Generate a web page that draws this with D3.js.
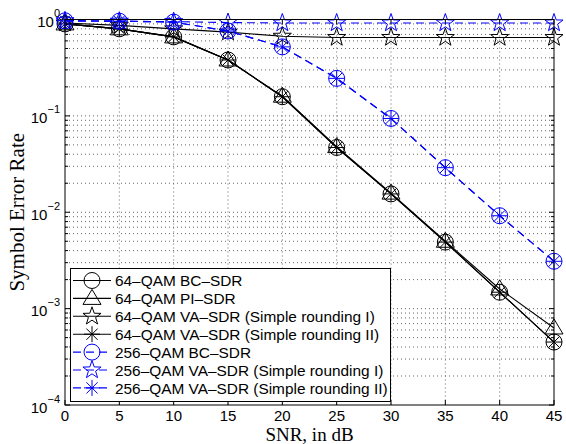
<!DOCTYPE html>
<html><head><meta charset="utf-8">
<script src="https://cdn.jsdelivr.net/npm/d3@7"></script>
<style>body{margin:0;background:#fff}</style>
</head><body>
<script>
const snr = [0,5,10,15,20,25,30,35,40,45];
const qam64_bc   = [0.90,0.80,0.66,0.38,0.158,0.047,0.0155,0.0049,0.00148,0.00045];
const qam64_pi   = [0.90,0.80,0.66,0.38,0.160,0.048,0.0158,0.0050,0.00160,0.00063];
const qam64_va1  = [0.92,0.87,0.80,0.74,0.67,0.65,0.65,0.65,0.65,0.65];
const qam64_va2  = [0.90,0.80,0.66,0.38,0.158,0.047,0.0155,0.0049,0.00148,0.00045];
const qam256_bc  = [0.97,0.96,0.94,0.76,0.52,0.245,0.094,0.029,0.0092,0.0031];
const qam256_va1 = [0.97,0.96,0.95,0.93,0.92,0.92,0.92,0.92,0.92,0.92];
const qam256_va2 = [0.97,0.96,0.94,0.76,0.52,0.245,0.094,0.029,0.0092,0.0031];
const legendLabels = ["64–QAM BC–SDR","64–QAM PI–SDR","64–QAM VA–SDR (Simple rounding I)","64–QAM VA–SDR (Simple rounding II)","256–QAM BC–SDR","256–QAM VA–SDR (Simple rounding I)","256–QAM VA–SDR (Simple rounding II)"];
const xTicks = [0,5,10,15,20,25,30,35,40,45];
const yExps = [0,-1,-2,-3,-4];

const W=566,H=444, L=65, R=554, T=19.5, B=405;
const svg=d3.select("body").append("svg").attr("width",W).attr("height",H);
const x=d3.scaleLinear().domain([0,45]).range([L,R]);
const y=d3.scaleLog().domain([1e-4,1]).range([B,T]);

const series=[
 {v:qam64_bc,c:"#000",m:"circle",dash:null},
 {v:qam64_pi,c:"#000",m:"triangle",dash:null},
 {v:qam64_va1,c:"#000",m:"star",dash:null},
 {v:qam64_va2,c:"#000",m:"asterisk",dash:null},
 {v:qam256_bc,c:"#0000ff",m:"circle",dash:"8,5"},
 {v:qam256_va1,c:"#0000ff",m:"star",dash:"8,5"},
 {v:qam256_va2,c:"#0000ff",m:"asterisk",dash:"8,5"}
];

// grid
const g=svg.append("g");
xTicks.forEach(t=>{ if(t>0&&t<45) g.append("line").attr("x1",x(t)).attr("x2",x(t)).attr("y1",T).attr("y2",B).attr("stroke","#666").attr("stroke-dasharray","1,3").attr("stroke-width",1);});
const minorY=[];
for(let e=-4;e<0;e++){for(let k=1;k<10;k++){minorY.push(k*Math.pow(10,e));}}
minorY.forEach(v=>{ if(v>1e-4) g.append("line").attr("x1",L).attr("x2",R).attr("y1",y(v)).attr("y2",y(v)).attr("stroke","#666").attr("stroke-dasharray","1,3").attr("stroke-width",1);});

// ticks
const tk=svg.append("g").attr("stroke","#000").attr("stroke-width",1);
xTicks.forEach(t=>{tk.append("line").attr("x1",x(t)).attr("x2",x(t)).attr("y1",B).attr("y2",B-5);tk.append("line").attr("x1",x(t)).attr("x2",x(t)).attr("y1",T).attr("y2",T+5);});
minorY.forEach(v=>{const major=Math.abs(Math.log10(v)-Math.round(Math.log10(v)))<1e-9;const len=major?5:3;
 tk.append("line").attr("x1",L).attr("x2",L+len).attr("y1",y(v)).attr("y2",y(v));
 tk.append("line").attr("x1",R).attr("x2",R-len).attr("y1",y(v)).attr("y2",y(v));});

// tick labels
xTicks.forEach(t=>svg.append("text").attr("x",x(t)).attr("y",421).attr("text-anchor","middle").attr("font-family","Liberation Sans, Arial, sans-serif").attr("font-size",15).text(t));
yExps.forEach(e=>{const t=svg.append("text").attr("x",L-5).attr("y",y(Math.pow(10,e))+7.5).attr("text-anchor","end").attr("font-family","Liberation Sans, Arial, sans-serif").attr("font-size",15);
 t.append("tspan").text("10");
 t.append("tspan").attr("dy",-10).attr("font-size",11).text(e===0?"0":"−"+(-e));});

// lines
const line=d3.line().x((d,i)=>x(snr[i])).y(d=>y(d));
function marker(sel,type,cx,cy,c){
 const gm=sel.append("g").attr("transform",`translate(${cx},${cy})`).attr("fill","none").attr("stroke",c).attr("stroke-width",1);
 if(type==="circle") gm.append("circle").attr("r",8);
 else if(type==="triangle") gm.append("path").attr("d","M0,-9L9,6L-9,6Z");
 else if(type==="star"){const pts=[];for(let k=0;k<10;k++){const a=-Math.PI/2+k*Math.PI/5;const r=k%2?3.8:9.5;pts.push([r*Math.cos(a),r*Math.sin(a)]);}
   gm.append("path").attr("d","M"+pts.map(p=>p.join(",")).join("L")+"Z");}
 else if(type==="asterisk"){const r=8;gm.append("path").attr("d",`M${-r},0L${r},0M0,${-r}L0,${r}M${-r*0.7},${-r*0.7}L${r*0.7},${r*0.7}M${-r*0.7},${r*0.7}L${r*0.7},${-r*0.7}`);}
}
series.forEach(s=>{
 svg.append("path").attr("d",line(s.v)).attr("fill","none").attr("stroke",s.c).attr("stroke-width",1.1).attr("stroke-dasharray",s.dash);
 s.v.forEach((v,i)=>marker(svg,s.m,x(snr[i]),y(v),s.c));
});

// axes box
svg.append("rect").attr("x",L).attr("y",T).attr("width",R-L).attr("height",B-T).attr("fill","none").attr("stroke","#000").attr("stroke-width",1);

// legend
const lg=svg.append("g");
lg.append("rect").attr("x",70.5).attr("y",268.5).attr("width",320).attr("height",133).attr("fill","#fff").attr("stroke","#000").attr("stroke-width",1);
series.forEach((s,i)=>{const cy=280.5+i*17.9;
 lg.append("line").attr("x1",73).attr("x2",111).attr("y1",cy).attr("y2",cy).attr("stroke",s.c).attr("stroke-width",1.1).attr("stroke-dasharray",s.dash);
 marker(lg,s.m,92,cy,s.c);
 lg.append("text").attr("x",115).attr("y",cy+5.6).attr("font-family","Liberation Sans, Arial, sans-serif").attr("font-size",15.4).text(legendLabels[i]);
});

// axis titles
svg.append("text").attr("x",(L+R)/2).attr("y",441).attr("text-anchor","middle").attr("font-family","Liberation Serif, Times New Roman, serif").attr("font-size",19).text("SNR, in dB");
svg.append("text").attr("transform",`translate(24,${(T+B)/2}) rotate(-90)`).attr("text-anchor","middle").attr("font-family","Liberation Serif, Times New Roman, serif").attr("font-size",21).text("Symbol Error Rate");
</script>
</body></html>
